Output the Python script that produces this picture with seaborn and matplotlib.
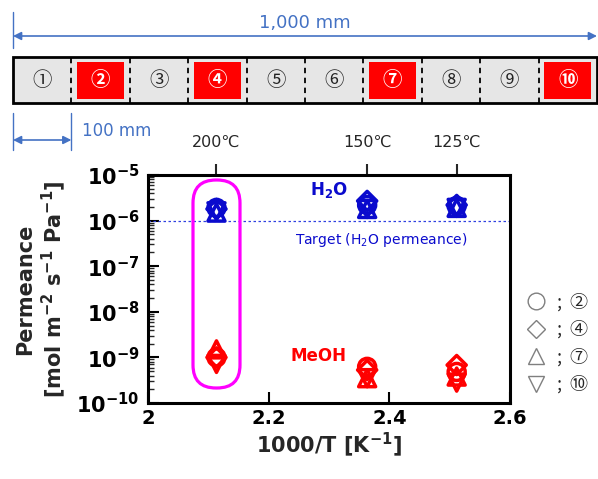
import numpy as np
import pandas as pd
import matplotlib
matplotlib.use("Agg")
import matplotlib.pyplot as plt
from matplotlib.lines import Line2D
from matplotlib.patches import FancyBboxPatch
import seaborn as sns

# ---- data ----
temps_c = [200, 150, 125]
temp_labels = ["200℃", "150℃", "125℃"]
samples = ["②", "④", "⑦", "⑩"]
sample_markers = ["o", "D", "^", "v"]

h2o_perm = {
    "②": [1.9e-6, 2.2e-6, 2.1e-6],
    "④": [1.8e-6, 2.7e-6, 2.2e-6],
    "⑦": [1.5e-6, 1.8e-6, 1.9e-6],
    "⑩": [1.6e-6, 1.8e-6, 1.9e-6],
}
meoh_perm = {
    "②": [1.0e-9, 6.2e-10, 4.8e-10],
    "④": [1.0e-9, 5.3e-10, 6.8e-10],
    "⑦": [1.5e-9, 3.5e-10, 3.8e-10],
    "⑩": [7.2e-10, 3.5e-10, 2.8e-10],
}
target_perm = 1e-6

segments = ["①", "②", "③", "④", "⑤", "⑥", "⑦", "⑧", "⑨", "⑩"]
highlighted = ["②", "④", "⑦", "⑩"]
segment_mm = 100
total_mm = 1000

inv_t = [1000.0 / (t + 273.15) for t in temps_c]

rows = []
for gas, table in [("H2O", h2o_perm), ("MeOH", meoh_perm)]:
    for s in samples:
        for x, y in zip(inv_t, table[s]):
            rows.append({"gas": gas, "sample": s, "invT": x, "perm": y})
df = pd.DataFrame(rows)

sns.set_theme(style="ticks")
plt.rcParams["font.family"] = ["DejaVu Sans", "Noto Sans CJK JP"]

BLUE = "#0A0ACD"
RED = "#FF0000"
LINE_BLUE = "#4472C4"
gas_colors = {"H2O": BLUE, "MeOH": RED}

fig = plt.figure(figsize=(5.98, 4.79), dpi=100)

# ---- main chart ----
ax = fig.add_axes([148 / 598, 76 / 479, 362 / 598, 228 / 479])
for gas in ["H2O", "MeOH"]:
    for s, m in zip(samples, sample_markers):
        sub = df[(df["gas"] == gas) & (df["sample"] == s)]
        sns.scatterplot(data=sub, x="invT", y="perm", marker=m, s=150 if m != "D" else 95,
                        color=gas_colors[gas], facecolor="none", edgecolor=gas_colors[gas],
                        linewidth=2.5, ax=ax, legend=False, zorder=3)

ax.set_yscale("log")
ax.set_xlim(2, 2.6)
ax.set_ylim(1e-10, 1e-5)
ax.axhline(target_perm, color="#3040E0", lw=0.9, ls=(0, (2, 2)), zorder=2)

ax.set_xticks([2, 2.2, 2.4, 2.6])
ax.set_xticklabels(["2", "2.2", "2.4", "2.6"], fontsize=14, fontweight="bold")
yt = [1e-10, 1e-9, 1e-8, 1e-7, 1e-6, 1e-5]
ax.set_yticks(yt)
ax.set_yticklabels([r"$\mathbf{10^{%d}}$" % int(np.log10(v)) for v in yt], fontsize=15)
ax.yaxis.set_minor_locator(matplotlib.ticker.LogLocator(base=10, subs=np.arange(2, 10), numticks=20))
ax.yaxis.set_minor_formatter(matplotlib.ticker.NullFormatter())
ax.tick_params(axis="both", which="major", direction="in", length=8, width=1.5, colors="black", pad=6)
ax.tick_params(axis="x", which="major", pad=4)
ax.tick_params(axis="y", which="minor", direction="in", length=4, width=1.0)
for sp in ax.spines.values():
    sp.set_linewidth(2.2)
    sp.set_color("black")
    sp.set_visible(True)

ax.set_xlabel(r"1000/T [K$^{\mathbf{-1}}$]", fontsize=15, fontweight="bold", labelpad=2)
ax.set_ylabel("Permeance\n" + r"[mol m$^{\mathbf{-2}}$ s$^{\mathbf{-1}}$ Pa$^{\mathbf{-1}}$]",
              fontsize=15, fontweight="bold", labelpad=6, linespacing=1.2)

top = ax.secondary_xaxis("top")
top.set_xticks(inv_t)
top.set_xticklabels(temp_labels, fontsize=11.5)
top.tick_params(direction="out", length=8, width=1.5, pad=10)

ax.text(2.268, 4.8e-6, r"H$_\mathbf{2}$O", color=BLUE, fontsize=12, fontweight="bold",
        va="center")
ax.text(2.243, 3.7e-7, r"Target (H$_2$O permeance)", color=BLUE, fontsize=10, va="center")
ax.text(2.237, 1.1e-9, "MeOH", color=RED, fontsize=12, fontweight="bold", va="center")

# highlight around 200 C
box = FancyBboxPatch((1.93, 0.91), 0.47, 2.08, boxstyle="round,pad=0,rounding_size=0.23",
                     transform=fig.dpi_scale_trans, fill=False, edgecolor="#FF00FF",
                     lw=2.3, zorder=4)
fig.add_artist(box)

# legend
handles = [Line2D([], [], marker=m, ls="none", markersize=12 if m != "D" else 9,
                  markerfacecolor="none", markeredgecolor="#7F7F7F", mew=1.0)
           for m in sample_markers]
fig.legend(handles, [" ;  " + s for s in samples], loc="upper left",
           bbox_to_anchor=(511 / 598, 1 - 277 / 479), frameon=False, handlelength=1.0,
           handletextpad=0.4, labelspacing=0.5,
           prop={"family": ["Noto Sans CJK JP"], "size": 13})

# ---- module schematic ----
ax_s = fig.add_axes([13 / 598, (479 - 155) / 479, 584 / 598, 145 / 479])
ax_s.set_xlim(0, total_mm)
ax_s.set_ylim(0, 145)
ax_s.axis("off")

starts = [i * segment_mm for i in range(len(segments))]
ax_s.bar(starts, 46, width=segment_mm, bottom=52, align="edge", color="#E6E6E6",
         edgecolor="none", zorder=1)
hl_starts = [starts[segments.index(s)] + 10 for s in highlighted]
ax_s.bar(hl_starts, 37, width=80, bottom=56.5, align="edge", color=RED,
         edgecolor="none", zorder=2)
ax_s.bar([0], 46, width=total_mm, bottom=52, align="edge", fill=False,
         edgecolor="black", lw=2.0, zorder=4, clip_on=False)
for x in starts[1:]:
    ax_s.plot([x, x], [52, 98], color="black", lw=1.3, ls=(0, (3, 2.5)), zorder=3)
for s, x in zip(segments, starts):
    hl = s in highlighted
    ax_s.text(x + segment_mm / 2, 75, s, ha="center", va="center", fontsize=14,
              color="white" if hl else "#222222", fontweight="bold" if hl else "normal",
              family=["Noto Sans CJK JP"], zorder=5)

ax_s.annotate("", xy=(0, 119), xytext=(total_mm, 119),
              arrowprops=dict(arrowstyle="<|-|>", color=LINE_BLUE, lw=1.2,
                              shrinkA=0, shrinkB=0, mutation_scale=12), annotation_clip=False)
ax_s.plot([0, 0], [107, 143], color=LINE_BLUE, lw=1.0, clip_on=False)
ax_s.text(total_mm / 2, 132, "1,000 mm", ha="center", va="center", fontsize=13,
          color=LINE_BLUE)

ax_s.annotate("", xy=(0, 15), xytext=(segment_mm, 15),
              arrowprops=dict(arrowstyle="<|-|>", color=LINE_BLUE, lw=1.2,
                              shrinkA=0, shrinkB=0, mutation_scale=12), annotation_clip=False)
ax_s.plot([0, 0], [5, 42], color=LINE_BLUE, lw=1.0, clip_on=False)
ax_s.plot([segment_mm, segment_mm], [5, 42], color=LINE_BLUE, lw=1.0, clip_on=False)
ax_s.text(118, 24, "100 mm", ha="left", va="center", fontsize=12, color=LINE_BLUE)

fig.savefig("out.png", dpi=100)
